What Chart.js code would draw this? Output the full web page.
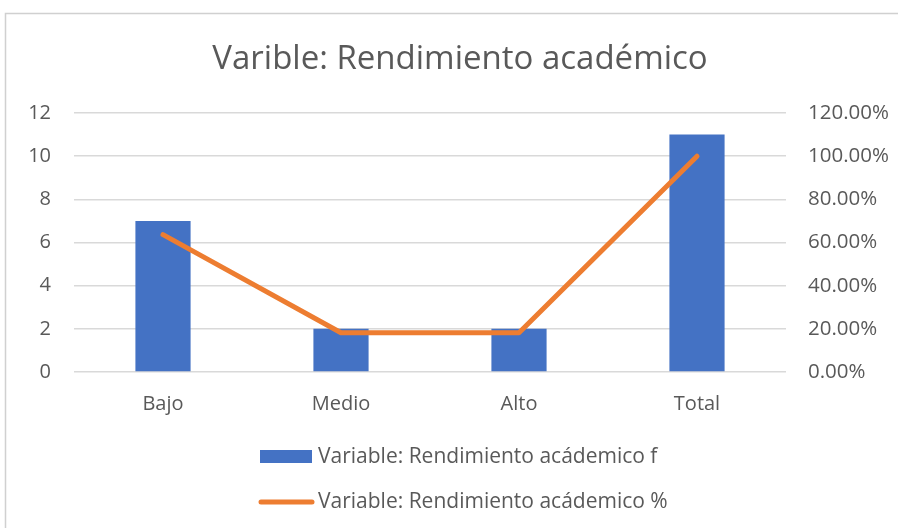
<!DOCTYPE html>
<html><head><meta charset="utf-8">
<script src="https://cdn.jsdelivr.net/npm/chart.js@4"></script>
<style>html,body{margin:0;padding:0;background:#fff}#wrap{width:898px;height:528px;position:relative}</style>
</head><body><div id="wrap"><canvas id="c" width="898" height="528"></canvas></div>
<script>
const categories = ['Bajo', 'Medio', 'Alto', 'Total'];
const frecuencias = [7, 2, 2, 11];
const porcentajes = [63.64, 18.18, 18.18, 100];
const leftTicks = [0, 2, 4, 6, 8, 10, 12];
const rightTicks = [0, 20, 40, 60, 80, 100, 120];
const titleText = 'Varible: Rendimiento académico';
const seriesNames = ['Variable: Rendimiento acádemico f', 'Variable: Rendimiento acádemico %'];

const BLUE = '#4472C4', ORANGE = '#ED7D31', TXT = '#595959', GRID = '#d9d9d9';
const FONT = '"Open Sans", "Noto Sans", sans-serif';

const deco = {
  id: 'deco',
  beforeDraw(chart) {
    const ctx = chart.ctx;
    ctx.save();
    ctx.fillStyle = '#fff';
    ctx.fillRect(0, 0, chart.width, chart.height);
    ctx.strokeStyle = '#d0d0d0';
    ctx.lineWidth = 1.5;
    ctx.beginPath();
    ctx.moveTo(5.5, 600); ctx.lineTo(5.5, 13.5); ctx.lineTo(1000, 13.5);
    ctx.stroke();
    ctx.restore();
  },
  afterDraw(chart) {
    const ctx = chart.ctx;
    ctx.save();
    ctx.fillStyle = TXT;
    ctx.font = '33px ' + FONT;
    ctx.textAlign = 'center';
    ctx.textBaseline = 'alphabetic';
    ctx.fillText(titleText, 460, 69);
    // legend
    const ds = chart.data.datasets;
    const barDs = ds.find(d => d.type === 'bar');
    const lineDs = ds.find(d => d.type === 'line');
    ctx.font = '21px ' + FONT;
    ctx.textAlign = 'left';
    ctx.textBaseline = 'middle';
    ctx.fillStyle = barDs.backgroundColor;
    ctx.fillRect(260, 450, 52, 13);
    ctx.fillStyle = TXT;
    ctx.fillText(barDs.label, 318, 457);
    ctx.strokeStyle = lineDs.borderColor;
    ctx.lineWidth = 5;
    ctx.lineCap = 'round';
    ctx.beginPath();
    ctx.moveTo(261, 502); ctx.lineTo(312, 502);
    ctx.stroke();
    ctx.fillText(lineDs.label, 318, 502);
    ctx.restore();
  }
};

function draw() {
  new Chart(document.getElementById('c'), {
    data: {
      labels: categories,
      datasets: [
        { type: 'line', label: seriesNames[1], data: porcentajes, yAxisID: 'y1', borderColor: ORANGE, backgroundColor: ORANGE,
          borderWidth: 5, pointRadius: 0, borderCapStyle: 'round', borderJoinStyle: 'round', tension: 0, order: 0 },
        { type: 'bar', label: seriesNames[0], data: frecuencias, yAxisID: 'y', backgroundColor: BLUE,
          barPercentage: 0.31, categoryPercentage: 1, order: 1 }
      ]
    },
    options: {
      responsive: false, animation: false, devicePixelRatio: 1,
      layout: { padding: { top: 113, left: 0, right: 0, bottom: 0 } },
      plugins: { legend: { display: false }, title: { display: false }, tooltip: { enabled: false } },
      scales: {
        x: {
          grid: { display: false, drawTicks: false }, border: { display: false },
          ticks: { color: TXT, font: { family: FONT, size: 20 }, padding: 20 },
          afterFit(s) { s.height = 156; }
        },
        y: {
          position: 'left', min: 0, max: 12,
          afterBuildTicks(s) { s.ticks = leftTicks.map(v => ({ value: v })); },
          grid: { color: GRID, lineWidth: 1.5, drawTicks: false }, border: { display: false },
          ticks: { color: TXT, font: { family: FONT, size: 20 }, padding: 23 },
          afterFit(s) { s.width = 74; }
        },
        y1: {
          position: 'right', min: 0, max: 120,
          afterBuildTicks(s) { s.ticks = rightTicks.map(v => ({ value: v })); },
          grid: { display: false, drawTicks: false }, border: { display: false },
          ticks: { color: TXT, font: { family: FONT, size: 20.5 }, padding: 22, callback: v => v.toFixed(2) + '%' },
          afterFit(s) { s.width = 112; }
        }
      }
    },
    plugins: [deco]
  });
}
if (document.fonts && document.fonts.load) {
  Promise.all([document.fonts.load('20px "Open Sans"'), document.fonts.load('33px "Open Sans"')]).then(draw, draw);
} else draw();
</script>
</body></html>
